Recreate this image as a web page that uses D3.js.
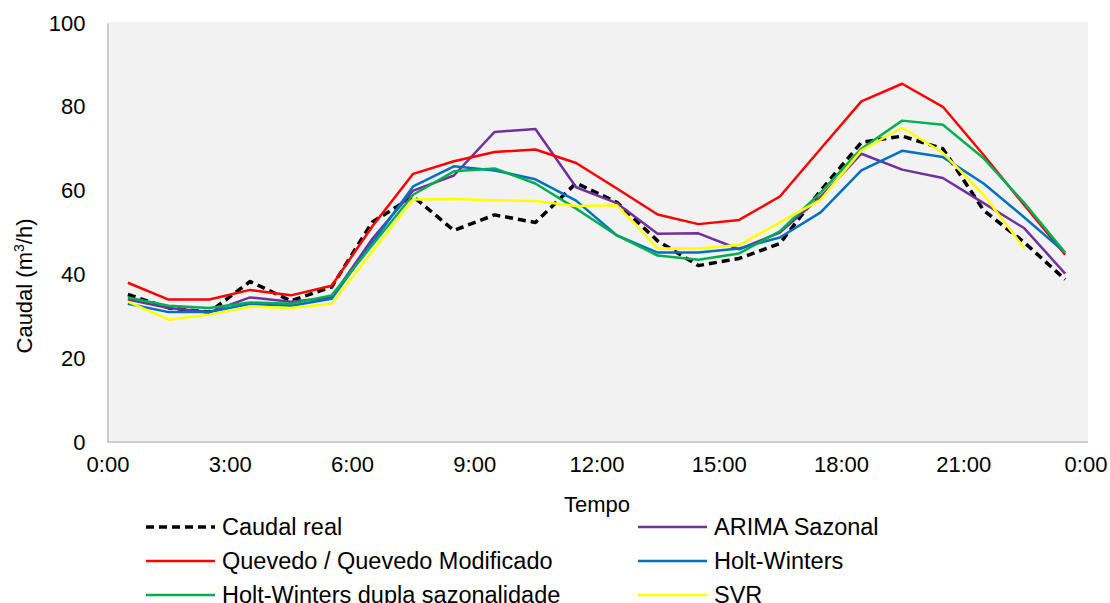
<!DOCTYPE html>
<html><head><meta charset="utf-8">
<script src="https://cdn.jsdelivr.net/npm/d3@7"></script>
<style>body{margin:0;background:#fff}svg{display:block}text{font-family:"Liberation Sans",Arial,sans-serif;fill:#000}</style>
</head><body><svg id="c" width="1110" height="603"></svg>
<script>
const hours = [0.5,1.5,2.5,3.5,4.5,5.5,6.5,7.5,8.5,9.5,10.5,11.5,12.5,13.5,14.5,15.5,16.5,17.5,18.5,19.5,20.5,21.5,22.5,23.5];
const caudalReal = [35.2,32,31,38.3,33.7,37,52.5,58.6,50.5,54.2,52.4,61.8,57.2,48,42.1,43.8,47.4,60,71.5,73,70,55.3,47.6,38.8];
const arima      = [34,32,31,34.5,33.5,34.5,48.5,60,63.6,74,74.7,60.8,57,49.7,49.8,46,50,58.5,68.8,65,63,57,51,40.2];
const quevedo    = [38,34,34,36.3,35,37.3,51.5,64,67,69.2,69.8,66.6,60.5,54.3,52,53,58.6,70,81.3,85.5,80,68.5,56.5,44.7];
const holtW      = [33,31,31,33,32.5,34.2,47.6,61,65.8,64.8,62.7,57.6,49.3,45.2,45.2,46.2,48.8,54.8,64.8,69.5,68,61.7,53.6,45.2];
const holtWDupla = [34.5,32.5,32,33.3,33,35,47,59,64.6,65.3,61.7,55.7,49.3,44.5,43.5,45,50.3,59.5,70,76.7,75.7,67.7,57,45.2];
const svr        = [33.5,29.2,30.4,32.3,32,33,45.5,57.9,58,57.7,57.5,56.3,56.5,46.2,46.2,47,52.4,57.8,69.6,75,69,59,46.2,null];
const xTickValues = [0,3,6,9,12,15,18,21,24];
const xTickLabels = ["0:00","3:00","6:00","9:00","12:00","15:00","18:00","21:00","0:00"];
const yTicks = [0,20,40,60,80,100];
const seriesNames = ["Caudal real","ARIMA Sazonal","Quevedo / Quevedo Modificado","Holt-Winters","Holt-Winters dupla sazonalidade","SVR"];

const series = [
  {name:seriesNames[0], values:caudalReal, color:"#000000", dash:"8,5", w:3.5},
  {name:seriesNames[1], values:arima, color:"#7030a0", dash:null, w:2.5},
  {name:seriesNames[2], values:quevedo, color:"#ff0000", dash:null, w:2.5},
  {name:seriesNames[3], values:holtW, color:"#0070c0", dash:null, w:2.5},
  {name:seriesNames[4], values:holtWDupla, color:"#00b050", dash:null, w:2.5},
  {name:seriesNames[5], values:svr, color:"#ffff00", dash:null, w:2.5}
];

const svg = d3.select("#c");
const L=107.5, R=1085.5, T=23, B=442;
const x = d3.scaleLinear().domain([0,24]).range([L,R]);
const y = d3.scaleLinear().domain([0,100]).range([B,T]);

svg.append("rect").attr("x",L).attr("y",T-1).attr("width",1088-L).attr("height",B-T+1).attr("fill","#f2f2f2");

// y axis
const ya = svg.append("g").attr("transform",`translate(${L},0)`)
  .call(d3.axisLeft(y).tickValues(yTicks).tickSize(0).tickPadding(22).tickFormat(d3.format("d")));
ya.select(".domain").attr("stroke","#bfbfbf").attr("stroke-width",1.5);
ya.selectAll("text").attr("font-size",22).attr("font-family","Liberation Sans, Arial, sans-serif").attr("fill","#000");

// x axis
const xa = svg.append("g").attr("transform",`translate(0,${B})`)
  .call(d3.axisBottom(x).tickValues(xTickValues).tickSize(0).tickPadding(14).tickFormat((d,i)=>xTickLabels[i]));
xa.select(".domain").attr("stroke","#bfbfbf").attr("stroke-width",1.5).attr("d",`M${L},0H1088`);
xa.selectAll("text").attr("font-size",22).attr("font-family","Liberation Sans, Arial, sans-serif").attr("fill","#000");

// lines
const line = d3.line().defined(d=>d[1]!=null).x(d=>x(d[0])).y(d=>y(d[1]));
series.forEach(s=>{
  svg.append("path").datum(hours.map((h,i)=>[h,s.values[i]]))
    .attr("d",line).attr("fill","none").attr("stroke",s.color)
    .attr("stroke-width",s.w).attr("stroke-linejoin","round")
    .attr("stroke-dasharray",s.dash);
});

// titles
svg.append("text").attr("x",597).attr("y",512).attr("text-anchor","middle").attr("font-size",22).text("Tempo");
const yt = svg.append("text").attr("transform","translate(32,286) rotate(-90)").attr("text-anchor","middle").attr("font-size",22);
yt.append("tspan").text("Caudal (m");
yt.append("tspan").attr("font-size",14).attr("dy",-8).text("3");
yt.append("tspan").attr("dy",8).text("/h)");

// legend
const lg = svg.append("g");
series.forEach((s,i)=>{
  const col=i%2, row=Math.floor(i/2);
  const lx = col===0?146:638, ly = 527+row*34;
  lg.append("line").attr("x1",lx).attr("x2",lx+69).attr("y1",ly).attr("y2",ly)
    .attr("stroke",s.color).attr("stroke-width",s.w).attr("stroke-dasharray",s.dash);
  lg.append("text").attr("x",lx+76).attr("y",ly).attr("dy","0.35em").attr("font-size",23.5).text(s.name);
});
</script></body></html>
